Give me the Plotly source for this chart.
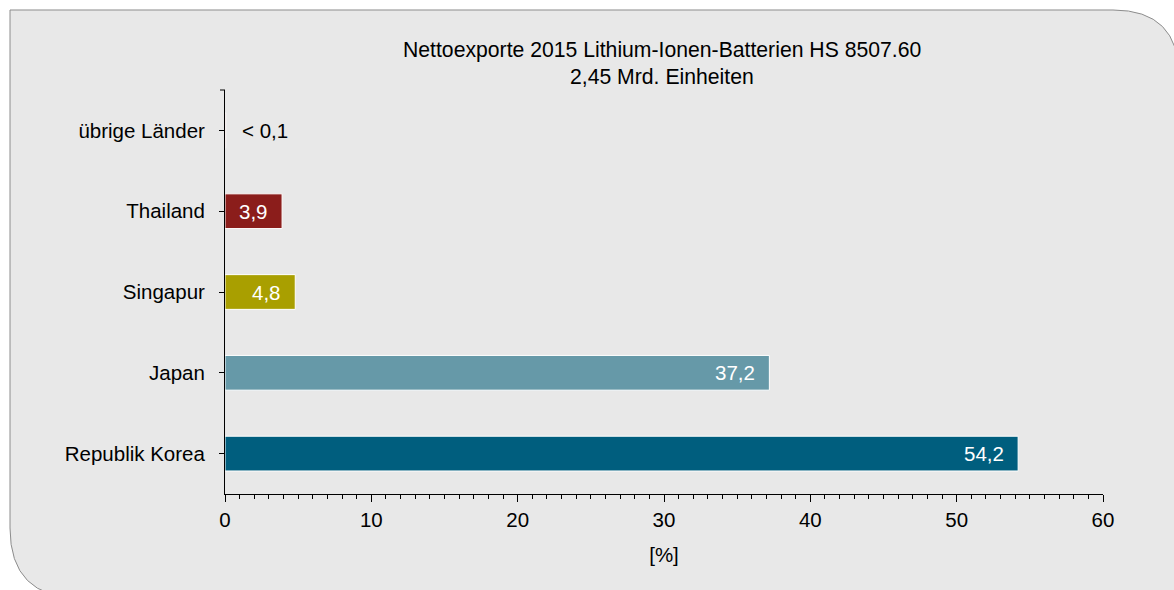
import plotly.graph_objects as go

categories = ["Republik Korea", "Japan", "Singapur", "Thailand", "übrige Länder"]
values = [54.2, 37.2, 4.8, 3.9, 0.05]
labels = ["54,2", "37,2", "4,8", "3,9", "< 0,1"]
colors = ["#005E7E", "#6699A8", "#A99F00", "#8B1D1B", "#8B1D1B"]
title_lines = ["Nettoexporte 2015 Lithium-Ionen-Batterien HS 8507.60", "2,45 Mrd. Einheiten"]
x_ticks = [0, 10, 20, 30, 40, 50, 60]

W, H = 1174, 590
L, R, T, B = 225, 71, 90, 96
pw, ph = W - L - R, H - T - B

def px(x):
    return (x - L) / pw

def py(y):
    return 1 - (y - T) / ph

FONT = "Liberation Sans, Arial, sans-serif"
FS = 20.5
FT = 21.2

fig = go.Figure()
fig.add_trace(go.Bar(
    y=categories, x=values, orientation="h",
    marker=dict(color=colors, line=dict(color="white", width=1)),
    width=0.43, hoverinfo="skip", showlegend=False,
))

annotations = []
for c, v, t in zip(categories, values, labels):
    if v < 1:
        annotations.append(dict(x=0, y=c, xref="x", yref="y", text=t, showarrow=False,
                                xanchor="left", xshift=15, font=dict(color="black", size=FS, family=FONT)))
    else:
        annotations.append(dict(x=v, y=c, xref="x", yref="y", text=t, showarrow=False,
                                xanchor="right", xshift=-12, font=dict(color="white", size=FS, family=FONT)))

annotations.append(dict(x=px(662), y=py(50), xref="paper", yref="paper", text=title_lines[0],
                        showarrow=False, xanchor="center", yanchor="middle",
                        font=dict(size=FT, color="black", family=FONT)))
annotations.append(dict(x=px(662), y=py(77), xref="paper", yref="paper", text=title_lines[1],
                        showarrow=False, xanchor="center", yanchor="middle",
                        font=dict(size=FT, color="black", family=FONT)))

# rounded background box
x0, y0, x1, y1 = 10, 10, 1179, 598
r1, r2 = 66, 70
def P(x, y):
    return f"{px(x):.5f},{py(y):.5f}"
path = (f"M {P(x0, y0)} L {P(x1 - r1, y0)} Q {P(x1, y0)} {P(x1, y0 + r1)} "
        f"L {P(x1, y1)} L {P(x0 + r2, y1)} Q {P(x0, y1)} {P(x0, y1 - r2)} Z")

shapes = [
    dict(type="path", xref="paper", yref="paper", path=path, layer="below",
         fillcolor="#E8E8E8", line=dict(color="#8C8C8C", width=1)),
    dict(type="line", xref="paper", yref="paper", x0=px(220), x1=px(225), y0=1, y1=1,
         line=dict(color="black", width=1)),
]

fig.update_layout(
    width=W, height=H,
    margin=dict(l=L, r=R, t=T, b=B),
    paper_bgcolor="white", plot_bgcolor="rgba(0,0,0,0)",
    font=dict(family=FONT, size=FS, color="black"),
    annotations=annotations, shapes=shapes,
    xaxis=dict(range=[0, 60], tickvals=x_ticks, ticktext=[str(v) for v in x_ticks],
               ticks="outside", ticklen=7, tickcolor="black", tickwidth=1,
               showline=True, linecolor="black", linewidth=1, showgrid=False, zeroline=False,
               minor=dict(dtick=1, ticks="outside", ticklen=4, tickcolor="black", showgrid=False),
               title=dict(text="[%]", standoff=18, font=dict(size=FS)),
               tickfont=dict(size=FS), fixedrange=True),
    yaxis=dict(range=[-0.5, 4.5], categoryorder="array", categoryarray=categories,
               ticks="outside", ticklen=5, tickcolor="black", ticklabelstandoff=10,
               showline=True, linecolor="black", linewidth=1, showgrid=False, zeroline=False,
               tickfont=dict(size=FS), fixedrange=True),
)

fig.write_html("out.html", config={"displayModeBar": False},
               post_script="document.body.style.margin='0';")
